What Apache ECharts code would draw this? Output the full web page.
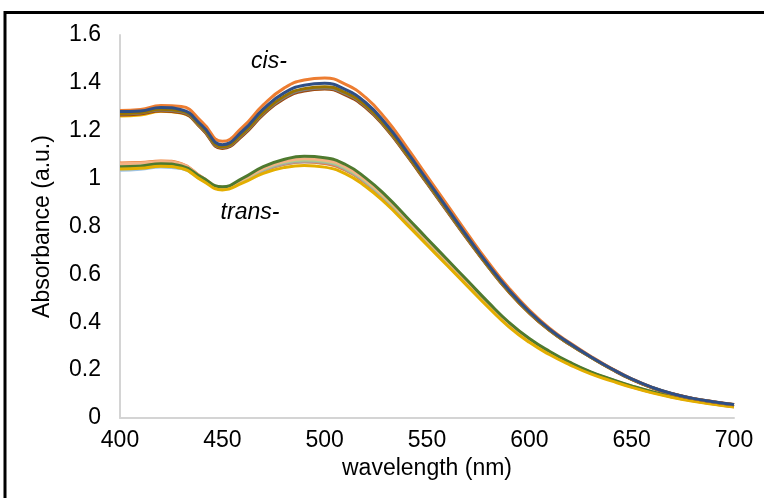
<!DOCTYPE html>
<html>
<head>
<meta charset="utf-8">
<title>Absorbance spectra</title>
<script src="https://cdn.jsdelivr.net/npm/echarts@6/dist/echarts.min.js"></script>
<style>
  html, body { margin: 0; padding: 0; background: #fff; }
  #chart { width: 764px; height: 498px; }
</style>
</head>
<body>
<div id="chart"></div>
<script>
// Wavelength sampling (nm), 10 nm steps
const wavelengths = [400,410,420,430,440,450,460,470,480,490,500,510,520,530,540,550,560,570,580,590,600,610,620,630,640,650,660,670,680,690,700];

// Axis ticks
const xTicks = [400,450,500,550,600,650,700];
const yTicks = [0,0.2,0.4,0.6,0.8,1,1.2,1.4,1.6];

// cis- isomer spectra
const cisYellow = [1.262,1.266,1.281,1.274,1.209,1.128,1.183,1.270,1.336,1.369,1.377,1.353,1.300,1.211,1.100,0.982,0.863,0.745,0.631,0.527,0.439,0.365,0.306,0.254,0.205,0.161,0.126,0.100,0.081,0.067,0.055];
const cisBrown  = [1.266,1.270,1.283,1.275,1.208,1.126,1.180,1.267,1.333,1.366,1.374,1.350,1.297,1.209,1.098,0.980,0.861,0.743,0.630,0.526,0.438,0.365,0.306,0.254,0.205,0.161,0.126,0.100,0.081,0.067,0.055];
const cisGray   = [1.270,1.274,1.287,1.279,1.212,1.130,1.185,1.273,1.338,1.371,1.379,1.355,1.302,1.213,1.102,0.983,0.864,0.746,0.632,0.528,0.440,0.366,0.307,0.254,0.205,0.162,0.127,0.100,0.081,0.067,0.055];
const cisOlive  = [1.272,1.276,1.290,1.282,1.215,1.133,1.189,1.277,1.343,1.376,1.384,1.360,1.306,1.217,1.105,0.986,0.867,0.748,0.634,0.530,0.441,0.367,0.308,0.255,0.206,0.162,0.127,0.100,0.081,0.067,0.055];
const cisOrange = [1.285,1.289,1.305,1.301,1.237,1.156,1.216,1.308,1.377,1.412,1.420,1.395,1.339,1.248,1.133,1.011,0.889,0.767,0.650,0.543,0.451,0.374,0.313,0.258,0.208,0.164,0.128,0.101,0.082,0.068,0.056];
const cisBlue   = [1.280,1.283,1.297,1.288,1.222,1.142,1.200,1.290,1.357,1.390,1.398,1.373,1.318,1.228,1.115,0.995,0.875,0.755,0.640,0.535,0.445,0.370,0.310,0.256,0.207,0.163,0.128,0.101,0.082,0.068,0.056];

// trans- isomer spectra
const transLightBlue   = [1.035,1.039,1.049,1.042,0.995,0.958,0.990,1.033,1.059,1.069,1.063,1.036,0.982,0.909,0.823,0.735,0.647,0.559,0.472,0.390,0.323,0.270,0.226,0.189,0.159,0.131,0.108,0.089,0.073,0.059,0.047];
const transOrange      = [1.065,1.067,1.074,1.062,1.006,0.960,0.991,1.034,1.060,1.070,1.063,1.036,0.981,0.908,0.822,0.734,0.646,0.558,0.470,0.389,0.322,0.269,0.226,0.188,0.158,0.130,0.107,0.088,0.072,0.058,0.047];
const transGray        = [1.048,1.051,1.060,1.050,1.000,0.960,0.992,1.035,1.062,1.073,1.067,1.040,0.985,0.912,0.826,0.738,0.650,0.562,0.474,0.392,0.325,0.272,0.228,0.190,0.160,0.132,0.109,0.090,0.074,0.060,0.048];
const transLightGreen  = [1.045,1.048,1.057,1.047,0.998,0.960,0.994,1.040,1.068,1.078,1.072,1.045,0.990,0.916,0.830,0.741,0.653,0.564,0.476,0.394,0.327,0.273,0.229,0.191,0.160,0.132,0.109,0.090,0.074,0.060,0.048];
const transLightOrange = [1.062,1.065,1.072,1.061,1.007,0.964,0.997,1.042,1.071,1.083,1.077,1.050,0.994,0.920,0.833,0.744,0.655,0.566,0.478,0.396,0.328,0.274,0.229,0.191,0.161,0.133,0.110,0.091,0.075,0.061,0.049];
const transGreen       = [1.050,1.053,1.062,1.053,1.005,0.966,1.002,1.050,1.080,1.093,1.087,1.060,1.003,0.928,0.840,0.750,0.661,0.572,0.483,0.400,0.332,0.278,0.232,0.193,0.162,0.134,0.110,0.091,0.075,0.061,0.049];
const transGold        = [1.040,1.043,1.052,1.043,0.993,0.953,0.982,1.022,1.046,1.055,1.048,1.021,0.967,0.895,0.810,0.723,0.636,0.549,0.462,0.381,0.316,0.264,0.221,0.184,0.155,0.128,0.105,0.086,0.070,0.057,0.046];

// Drawing order: trans group underneath, cis group on top
const curves = [
  { name: 'trans light blue',   color: '#9DC3E6', values: transLightBlue },
  { name: 'trans orange',       color: '#ED7D31', values: transOrange },
  { name: 'trans gray',         color: '#A5A5A5', values: transGray },
  { name: 'trans light green',  color: '#A9D18E', values: transLightGreen },
  { name: 'trans light orange', color: '#F4B183', values: transLightOrange },
  { name: 'trans green',        color: '#4E7A2F', values: transGreen },
  { name: 'trans gold',         color: '#E3AE00', values: transGold },
  { name: 'cis yellow',         color: '#F2B800', values: cisYellow },
  { name: 'cis brown',          color: '#9E480E', values: cisBrown },
  { name: 'cis gray',           color: '#7F7F7F', values: cisGray },
  { name: 'cis olive',          color: '#997300', values: cisOlive },
  { name: 'cis orange',         color: '#ED7D31', values: cisOrange },
  { name: 'cis blue',           color: '#2F4F86', values: cisBlue }
];

const font = '"Liberation Sans", Arial, Helvetica, sans-serif';

const chart = echarts.init(document.getElementById('chart'), null, { renderer: 'canvas' });

chart.setOption({
  animation: false,
  backgroundColor: '#ffffff',
  grid: { left: 120, right: 30, top: 35, bottom: 80, containLabel: false },
  xAxis: {
    type: 'value',
    min: xTicks[0],
    max: xTicks[xTicks.length - 1],
    interval: xTicks[1] - xTicks[0],
    name: 'wavelength (nm)',
    nameLocation: 'middle',
    nameGap: 37,
    nameTextStyle: { fontFamily: font, fontSize: 23, color: '#000' },
    axisLine: { lineStyle: { color: '#d4d4d4', width: 2 } },
    axisTick: { show: false },
    splitLine: { show: false },
    axisLabel: { fontFamily: font, fontSize: 23, color: '#000', margin: 11 }
  },
  yAxis: {
    type: 'value',
    min: yTicks[0],
    max: yTicks[yTicks.length - 1],
    interval: yTicks[1] - yTicks[0],
    name: 'Absorbance (a.u.)',
    nameLocation: 'middle',
    nameGap: 66,
    nameTextStyle: { fontFamily: font, fontSize: 23, color: '#000' },
    axisLine: { show: true, lineStyle: { color: '#d4d4d4', width: 2 } },
    axisTick: { show: false },
    splitLine: { show: false },
    axisLabel: { fontFamily: font, fontSize: 23, color: '#000', margin: 19 }
  },
  series: curves.map(c => ({
    name: c.name,
    type: 'line',
    smooth: 0.5,
    showSymbol: false,
    symbol: 'none',
    lineStyle: { color: c.color, width: 3 },
    itemStyle: { color: c.color },
    data: wavelengths.map((w, i) => [w, c.values[i]])
  })),
  graphic: [
    {
      type: 'rect',
      shape: { x: 5, y: 12.5, width: 900, height: 700 },
      style: { fill: 'none', stroke: '#000', lineWidth: 3 },
      silent: true
    },
    {
      type: 'text',
      x: 269, y: 62,
      style: { text: 'cis-', font: 'italic 23px ' + font, fill: '#000', align: 'center', verticalAlign: 'middle' }
    },
    {
      type: 'text',
      x: 250, y: 213,
      style: { text: 'trans-', font: 'italic 23px ' + font, fill: '#000', align: 'center', verticalAlign: 'middle' }
    }
  ]
});
</script>
</body>
</html>
